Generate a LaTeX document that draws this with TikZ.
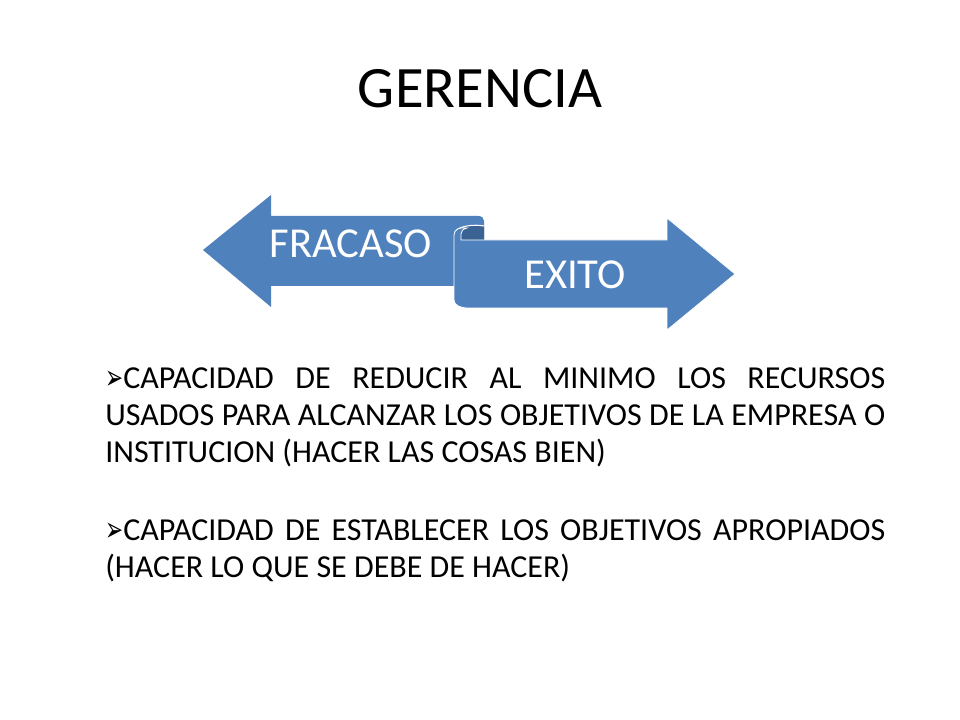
\documentclass[tikz,border=0pt]{standalone}
\usepackage{fontspec}
\setmainfont{Carlito}
\newfontfamily\bulletfont{DejaVu Sans}
\definecolor{accentblue}{HTML}{4F81BD}
\definecolor{curlblue}{HTML}{3A6394}
\newcommand{\itemmark}{{\bulletfont\fontsize{26pt}{26pt}\selectfont\raisebox{-1pt}{\scalebox{0.62}[1]{➢}}}}
\begin{document}
\begin{tikzpicture}[x=0.75pt, y=-0.75pt,
    arrowfill/.style={fill=accentblue},
    arrowtext/.style={text=white, inner sep=0pt, anchor=base, font=\fontsize{32pt}{36pt}\selectfont},
    itemtext/.style={inner sep=0pt, anchor=base west, text width=585pt, align=justify,
        font=\fontsize{24pt}{27.75pt}\selectfont}]
    \useasboundingbox[fill=white] (0,0) rectangle (960,720);
    \node[inner sep=0pt, anchor=base, font=\fontsize{44pt}{50pt}\selectfont] (title) at (480,108) {GERENCIA};
    % left arrow with rolled end
    \fill[arrowfill] (203,250)--(271,195)--(271,216)--(478,216)
        .. controls (482,216) and (484,218) .. (484,221)--(484,286)--(271,286)--(271,307)--cycle;
    \fill[curlblue] (455,232) .. controls (458,226) and (474,224) .. (484,226)--(484,242)--(455,242)--cycle;
    \draw[white, line width=.8pt] (455,232) .. controls (458,226) and (474,224) .. (484,226);
    % right arrow
    \filldraw[arrowfill, draw=white, line width=.6pt] (454,300) .. controls (454,305) and (460,308) .. (468,308)
        --(667,308)--(667,330)--(735,274)--(667,218)--(667,240)--(461,240)--(461,234)
        .. controls (461,231) and (463,229) .. (467,228) .. controls (460,227) and (454,229) .. (454,235)--cycle;
    \node[arrowtext] (fracaso) at (351,258) {FRACASO};
    \node[arrowtext] (exito) at (575,289) {EXITO};
    \node[itemtext] (item1) at (105,388) {\itemmark CAPACIDAD~DE~REDUCIR~AL~MINIMO~LOS~RECURSOS\linebreak
        USADOS~PARA~ALCANZAR~LOS~OBJETIVOS~DE~LA~EMPRESA~O\linebreak
        INSTITUCION~(HACER~LAS~COSAS~BIEN)};
    \node[itemtext] (item2) at (105,540) {\itemmark CAPACIDAD~DE~ESTABLECER~LOS~OBJETIVOS~APROPIADOS\linebreak
        (HACER~LO~QUE~SE~DEBE~DE~HACER)};
\end{tikzpicture}
\end{document}
